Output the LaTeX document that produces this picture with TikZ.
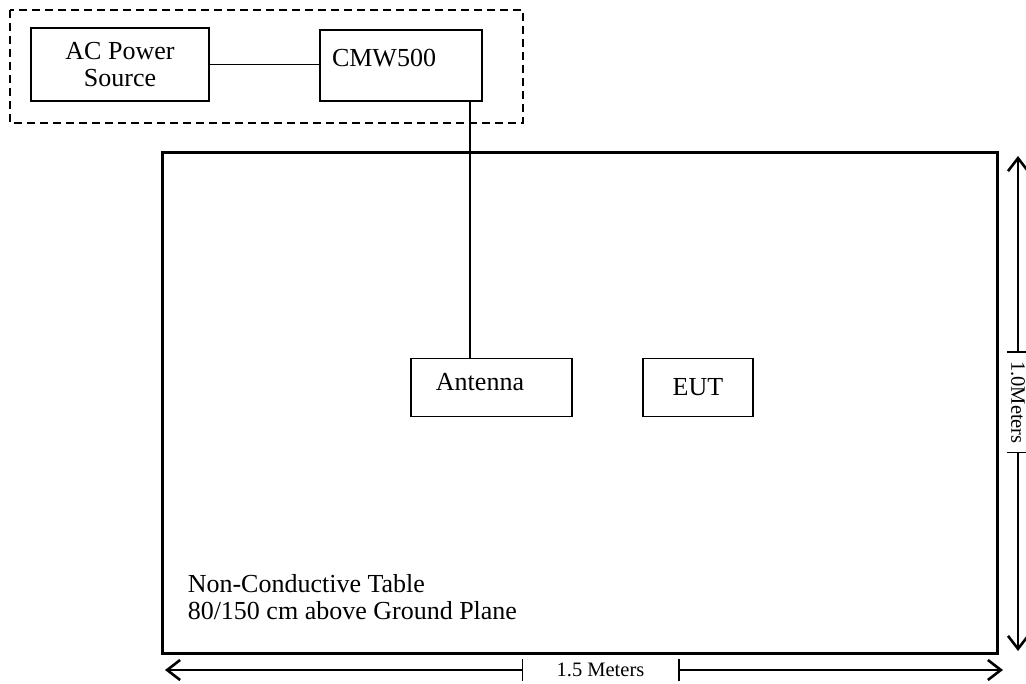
\documentclass[tikz,border=0pt]{standalone}
\usepackage{fontspec}
\setmainfont{Liberation Serif}
\usetikzlibrary{arrows.meta,positioning,calc}

\begin{document}
\begin{tikzpicture}[x=1pt,y=-1pt,line width=1.5pt,
  box/.style={draw,line width=1.5pt,inner sep=0pt},
  txt/.style={font=\fontsize{26}{27}\selectfont},
  dimtxt/.style={font=\fontsize{20.5}{21}\selectfont,inner sep=0pt},
  dimline/.style={line width=1.5pt,{Bar[width=22pt]}-{Straight Barb[length=13pt,width=20pt,line width=2.6pt]}}]
  \useasboundingbox (0,0) rectangle (1026,684);
  % test equipment outside the chamber
  \draw[dash pattern=on 8pt off 5pt] (10,10) rectangle (523,123);
  \node[box,txt,align=center,minimum width=178pt,minimum height=73pt] (acsrc) at (120,64.5) {AC Power\\Source};
  \node[box,minimum width=162pt,minimum height=71pt] (cmw) at (401,65.5) {};
  \node[txt,anchor=west,inner sep=0pt] (cmwtxt) at ([xshift=12pt,yshift=-29pt]cmw.north west) {CMW500};
  \draw (acsrc.east) -- (acsrc.east -| cmw.west);
  % table
  \draw[line width=3pt] (162,153) rectangle (997,653);
  \node[box,minimum width=161pt,minimum height=58pt] (ant) at (491.5,387.5) {};
  \node[txt,inner sep=0pt] (anttxt) at (480,382) {Antenna};
  \node[box,txt,minimum width=110pt,minimum height=58pt] (eut) at (698,387.5) {EUT};
  \draw ([xshift=-21.5pt]ant.north) -- ([xshift=-21.5pt]ant.north |- cmw.south);
  \node[txt,anchor=base west,align=left,inner sep=0pt] (tbltxt) at (187,619) {Non-Conductive Table\\80/150 cm above Ground Plane};
  % dimensions
  \coordinate (hl) at (165,670);
  \coordinate (hr) at (1003,670);
  \coordinate (ha) at (523,670);
  \coordinate (hb) at (678,670);
  \draw[dimline] (ha) -- (hl);
  \draw[dimline] (hb) -- (hr);
  \node[dimtxt] (hlen) at ($(ha)!0.5!(hb)$) {1.5 Meters};
  \coordinate (vt) at (1018,156);
  \coordinate (vb) at (1018,651);
  \coordinate (va) at (1018,353);
  \coordinate (vc) at (1018,452);
  \draw[dimline] (va) -- (vt);
  \draw[dimline] (vc) -- (vb);
  \node[dimtxt,rotate=-90] (vlen) at ($(va)!0.5!(vc)$) {1.0Meters};
\end{tikzpicture}
\end{document}
